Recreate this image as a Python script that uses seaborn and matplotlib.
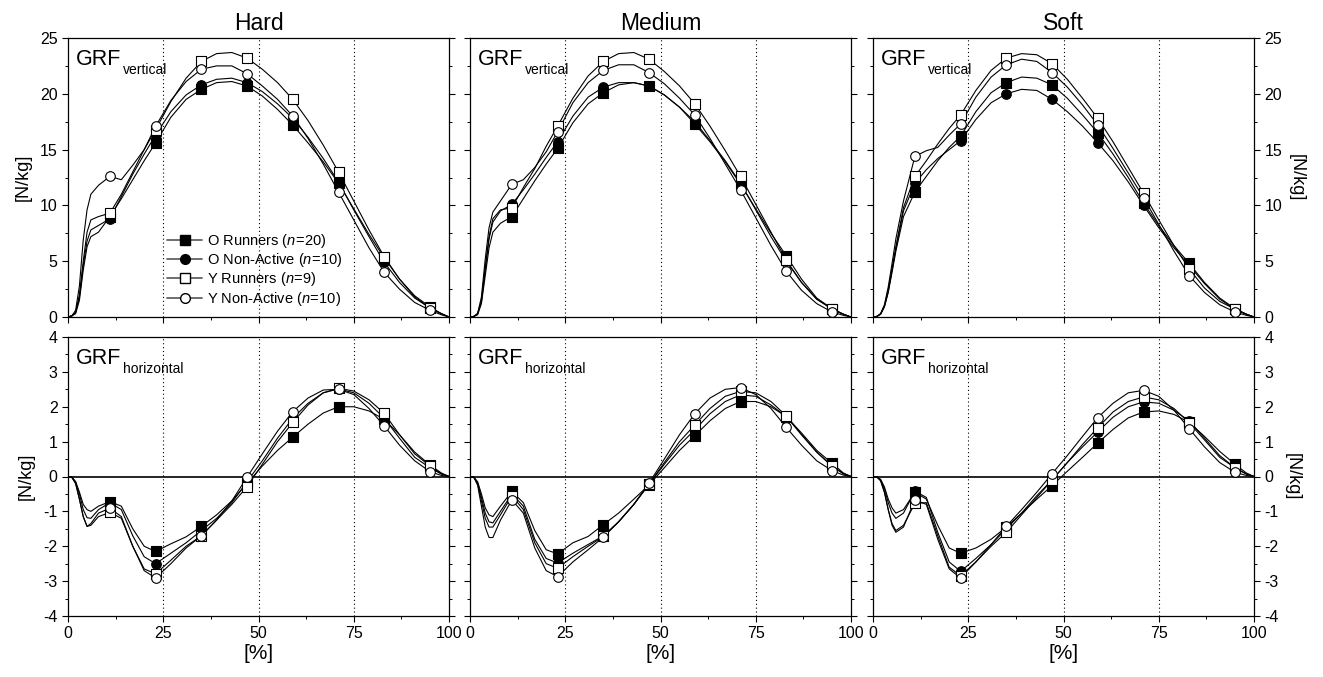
import numpy as np
import matplotlib
matplotlib.use('Agg')
import matplotlib.pyplot as plt
import seaborn as sns
from matplotlib.lines import Line2D
from matplotlib.ticker import MultipleLocator

pct = [0, 1, 2, 3, 4, 5, 6, 8, 11, 14, 17, 20, 23, 27, 31, 35, 39, 43, 47,
       51, 55, 59, 63, 67, 71, 75, 79, 83, 87, 91, 95, 98, 100]
mark_pct = [11, 23, 35, 47, 59, 71, 83, 95]

surfaces = ['Hard', 'Medium', 'Soft']
groups = ['O Runners ($\\mathit{n\\!=\\!20}$)', 'O Non-Active ($\\mathit{n\\!=\\!10}$)',
          'Y Runners ($\\mathit{n\\!=\\!9}$)', 'Y Non-Active ($\\mathit{n\\!=\\!10}$)']

# vertical GRF [N/kg]
hard_v_orun = [0, 0.1, 0.3, 1.5, 4.2, 6.3, 7.2, 7.6, 9.0, 10.6, 12.3, 14.0, 15.6, 17.9, 19.5, 20.4, 21.0, 21.1, 20.7,
               19.8, 18.6, 17.2, 15.6, 13.9, 12.0, 9.7, 7.4, 5.3, 3.4, 1.9, 0.9, 0.3, 0]
hard_v_ona = [0, 0.1, 0.4, 1.8, 4.6, 6.8, 7.8, 8.2, 8.8, 10.8, 12.8, 14.6, 16.3, 18.4, 19.9, 20.8, 21.3, 21.4, 21.0,
              20.2, 19.1, 17.8, 16.1, 14.2, 12.1, 9.6, 7.2, 4.9, 3.1, 1.7, 0.8, 0.3, 0]
hard_v_yrun = [0, 0.1, 0.4, 2.0, 5.0, 7.6, 8.7, 9.0, 9.3, 11.0, 13.0, 15.0, 16.8, 19.3, 21.4, 22.9, 23.6, 23.7, 23.2,
               22.2, 21.0, 19.5, 17.6, 15.4, 13.0, 10.4, 7.8, 5.4, 3.4, 1.8, 0.8, 0.3, 0]
hard_v_yna = [0, 0.1, 0.6, 2.8, 6.9, 9.6, 11.0, 11.8, 12.6, 12.3, 13.6, 15.0, 17.1, 19.4, 21.1, 22.2, 22.5, 22.5, 21.8,
              20.7, 19.5, 18.0, 16.0, 13.7, 11.2, 8.7, 6.2, 4.0, 2.5, 1.3, 0.6, 0.2, 0]

med_v_orun = [0, 0.05, 0.2, 1.2, 3.7, 6.2, 7.6, 8.4, 9.0, 10.6, 12.2, 13.7, 15.1, 17.4, 19.1, 20.1, 20.8, 21.0, 20.7,
              19.9, 18.8, 17.3, 15.7, 13.9, 11.9, 9.7, 7.5, 5.5, 3.4, 1.7, 0.75, 0.25, 0]
med_v_ona = [0, 0.05, 0.3, 1.4, 4.2, 7.0, 8.5, 9.5, 10.1, 11.4, 12.8, 14.3, 15.7, 18.0, 19.7, 20.6, 21.0, 21.0, 20.7,
             19.9, 18.8, 17.5, 15.8, 14.0, 12.0, 9.6, 7.2, 5.0, 3.1, 1.6, 0.7, 0.25, 0]
med_v_yrun = [0, 0.05, 0.3, 1.5, 4.5, 7.2, 8.8, 9.6, 9.8, 11.6, 13.3, 15.3, 17.1, 19.6, 21.6, 22.9, 23.6, 23.7, 23.1,
              22.0, 20.7, 19.1, 17.1, 14.9, 12.6, 10.1, 7.6, 5.1, 3.1, 1.6, 0.75, 0.25, 0]
med_v_yna = [0, 0.05, 0.3, 1.8, 5.2, 8.0, 9.4, 10.4, 11.9, 12.3, 13.4, 14.8, 16.6, 19.2, 21.0, 22.1, 22.6, 22.6, 21.9,
             20.9, 19.6, 18.1, 16.0, 13.7, 11.4, 8.9, 6.4, 4.1, 2.4, 1.2, 0.45, 0.15, 0]

soft_v_orun = [0, 0.05, 0.25, 0.9, 2.2, 4.0, 5.9, 9.0, 11.2, 12.6, 14.0, 15.2, 16.2, 18.4, 20.1, 21.0, 21.5, 21.4, 20.8,
               19.6, 18.1, 16.5, 14.6, 12.5, 10.2, 8.2, 6.4, 4.8, 3.1, 1.7, 0.75, 0.25, 0]
soft_v_ona = [0, 0.05, 0.25, 0.95, 2.3, 4.2, 6.1, 9.5, 12.0, 13.2, 14.2, 15.0, 15.8, 17.7, 19.2, 20.0, 20.4, 20.3, 19.5,
              18.4, 17.1, 15.6, 14.0, 12.1, 10.0, 8.0, 6.2, 4.6, 3.0, 1.6, 0.7, 0.25, 0]
soft_v_yrun = [0, 0.05, 0.3, 1.0, 2.4, 4.3, 6.3, 9.8, 12.6, 14.0, 15.5, 16.9, 18.1, 20.3, 22.1, 23.2, 23.6, 23.5, 22.7,
               21.3, 19.6, 17.8, 15.7, 13.4, 11.1, 8.7, 6.4, 4.3, 2.6, 1.4, 0.7, 0.25, 0]
soft_v_yna = [0, 0.05, 0.3, 1.1, 2.7, 4.8, 7.0, 10.4, 14.4, 14.9, 15.2, 16.3, 17.3, 19.7, 21.5, 22.6, 23.1, 22.9, 21.9,
              20.6, 19.0, 17.2, 15.1, 12.9, 10.7, 8.3, 5.9, 3.7, 2.2, 1.1, 0.45, 0.15, 0]

# horizontal GRF [N/kg]
hard_h_orun = [0, -0.02, -0.15, -0.45, -0.8, -0.95, -1.0, -0.85, -0.72, -0.85, -1.5, -2.0, -2.15, -1.93, -1.73, -1.43, -1.1, -0.7, -0.2,
               0.3, 0.75, 1.13, 1.5, 1.82, 2.0, 2.0, 1.88, 1.64, 1.2, 0.7, 0.33, 0.1, 0]
hard_h_ona = [0, -0.02, -0.15, -0.5, -0.95, -1.18, -1.2, -0.95, -0.75, -0.95, -1.7, -2.3, -2.5, -2.2, -1.9, -1.55, -1.2, -0.75, -0.15,
              0.45, 1.1, 1.67, 2.1, 2.4, 2.51, 2.4, 2.1, 1.67, 1.1, 0.55, 0.25, 0.07, 0]
hard_h_yrun = [0, -0.02, -0.2, -0.65, -1.15, -1.43, -1.4, -1.15, -1.03, -1.2, -2.0, -2.65, -2.79, -2.4, -2.0, -1.7, -1.25, -0.8, -0.29,
               0.35, 1.0, 1.55, 2.05, 2.4, 2.53, 2.45, 2.2, 1.81, 1.2, 0.65, 0.3, 0.08, 0]
hard_h_yna = [0, -0.02, -0.2, -0.65, -1.15, -1.43, -1.35, -1.05, -0.91, -1.15, -2.0, -2.7, -2.91, -2.5, -2.05, -1.7, -1.25, -0.7, -0.02,
              0.65, 1.3, 1.86, 2.25, 2.48, 2.5, 2.35, 1.95, 1.45, 0.9, 0.45, 0.14, 0.03, 0]

med_h_orun = [0, -0.02, -0.15, -0.5, -0.9, -1.1, -1.15, -0.85, -0.43, -0.75, -1.55, -2.1, -2.22, -1.9, -1.72, -1.38, -1.05, -0.65, -0.24,
              0.25, 0.75, 1.17, 1.6, 1.95, 2.15, 2.15, 2.0, 1.72, 1.25, 0.75, 0.38, 0.1, 0]
med_h_ona = [0, -0.02, -0.18, -0.6, -1.05, -1.3, -1.33, -1.0, -0.5, -0.85, -1.8, -2.35, -2.48, -2.2, -1.95, -1.7, -1.3, -0.8, -0.22,
             0.35, 0.9, 1.34, 1.8, 2.15, 2.34, 2.3, 2.05, 1.72, 1.2, 0.7, 0.3, 0.08, 0]
med_h_yrun = [0, -0.02, -0.2, -0.7, -1.2, -1.45, -1.45, -1.1, -0.55, -0.95, -1.9, -2.5, -2.63, -2.3, -2.0, -1.72, -1.3, -0.8, -0.22,
              0.4, 1.0, 1.48, 1.95, 2.3, 2.44, 2.4, 2.15, 1.74, 1.2, 0.7, 0.3, 0.08, 0]
med_h_yna = [0, -0.02, -0.25, -0.85, -1.45, -1.75, -1.75, -1.25, -0.67, -1.05, -2.05, -2.7, -2.87, -2.45, -2.1, -1.74, -1.3, -0.8, -0.19,
             0.5, 1.2, 1.8, 2.25, 2.5, 2.55, 2.35, 1.95, 1.41, 0.9, 0.45, 0.17, 0.04, 0]

soft_h_orun = [0, -0.01, -0.08, -0.3, -0.65, -0.9, -1.05, -0.95, -0.45, -0.65, -1.4, -2.05, -2.2, -2.05, -1.8, -1.45, -1.05, -0.65, -0.26,
               0.15, 0.55, 0.96, 1.35, 1.68, 1.85, 1.88, 1.78, 1.55, 1.15, 0.72, 0.35, 0.1, 0]
soft_h_ona = [0, -0.01, -0.1, -0.35, -0.75, -1.05, -1.2, -1.05, -0.42, -0.6, -1.6, -2.45, -2.72, -2.35, -1.95, -1.5, -1.05, -0.55, -0.1,
              0.4, 0.85, 1.28, 1.7, 2.0, 2.14, 2.1, 1.9, 1.59, 1.1, 0.6, 0.25, 0.07, 0]
soft_h_yrun = [0, -0.01, -0.12, -0.45, -0.95, -1.35, -1.55, -1.4, -0.77, -0.75, -1.7, -2.6, -2.85, -2.45, -2.0, -1.6, -1.1, -0.6, -0.1,
               0.4, 0.92, 1.4, 1.85, 2.15, 2.28, 2.2, 1.95, 1.54, 1.05, 0.55, 0.25, 0.07, 0]
soft_h_yna = [0, -0.01, -0.12, -0.45, -0.95, -1.4, -1.6, -1.45, -0.67, -0.8, -1.8, -2.65, -2.91, -2.45, -1.95, -1.43, -0.95, -0.45, 0.08,
              0.6, 1.15, 1.69, 2.1, 2.4, 2.47, 2.3, 1.9, 1.37, 0.85, 0.4, 0.12, 0.03, 0]

vertical = [[hard_v_orun, hard_v_ona, hard_v_yrun, hard_v_yna],
            [med_v_orun, med_v_ona, med_v_yrun, med_v_yna],
            [soft_v_orun, soft_v_ona, soft_v_yrun, soft_v_yna]]
horizontal = [[hard_h_orun, hard_h_ona, hard_h_yrun, hard_h_yna],
              [med_h_orun, med_h_ona, med_h_yrun, med_h_yna],
              [soft_h_orun, soft_h_ona, soft_h_yrun, soft_h_yna]]

markers = ['s', 'o', 's', 'o']
faces = ['black', 'black', 'white', 'white']

sns.set_style('ticks')
plt.rcParams['font.family'] = ['Liberation Sans', 'DejaVu Sans']
plt.rcParams['mathtext.fontset'] = 'custom'
plt.rcParams['mathtext.rm'] = 'Liberation Sans'
plt.rcParams['mathtext.it'] = 'Liberation Sans:italic'
plt.rcParams['axes.unicode_minus'] = False
plt.rcParams['axes.linewidth'] = 0.9
for key in ['text.color', 'axes.labelcolor', 'xtick.color', 'ytick.color', 'axes.edgecolor']:
    plt.rcParams[key] = 'black'

fig = plt.figure(figsize=(13.23, 6.77), dpi=100)

W, H = 1323, 677
lefts = [68, 470, 873]
tops = [38, 337]
aw, ah = 381, 279

pct_arr = np.array(pct)
midx = [pct.index(m) for m in mark_pct]


def grf_label(ax, sub):
    t = ax.text(0.02, 0.903, 'GRF', transform=ax.transAxes, fontsize=15.5,
                va='baseline', ha='left')
    ax.annotate(sub, xy=(1, 0), xycoords=t, xytext=(1.5, -3),
                textcoords='offset points', fontsize=10, va='baseline', ha='left')


for row in range(2):
    for col in range(3):
        ax = fig.add_axes([lefts[col] / W, 1 - (tops[row] + ah) / H, aw / W, ah / H])
        series = vertical[col] if row == 0 else horizontal[col]
        for vals in series:
            sns.lineplot(x=pct_arr, y=np.array(vals), ax=ax, color='black',
                         linewidth=0.8, estimator=None, sort=False)
        for vals, mk, fc in zip(series, markers, faces):
            v = np.array(vals)
            sns.scatterplot(x=pct_arr[midx], y=v[midx], ax=ax, marker=mk, s=48,
                            color=fc, edgecolor='black', linewidth=0.8,
                            zorder=5, legend=False)
        for g in [25, 50, 75]:
            ax.axvline(g, color='black', linestyle=(0, (1, 2.5)), linewidth=0.8, zorder=1)
        ax.set_xlim(0, 100)
        ax.xaxis.set_major_locator(MultipleLocator(25))
        ax.xaxis.set_minor_locator(MultipleLocator(12.5))
        if row == 0:
            ax.set_ylim(0, 25)
            ax.yaxis.set_major_locator(MultipleLocator(5))
            ax.yaxis.set_minor_locator(MultipleLocator(2.5))
            ax.set_title(surfaces[col], fontsize=16.5, pad=5.5)
            ax.set_xticklabels([])
            grf_label(ax, 'vertical')
        else:
            ax.set_ylim(-4, 4)
            ax.yaxis.set_major_locator(MultipleLocator(1))
            ax.yaxis.set_minor_locator(MultipleLocator(0.5))
            ax.axhline(0, color='black', linewidth=1.2, zorder=2)
            grf_label(ax, 'horizontal')
        ax.tick_params(which='both', direction='out', left=True, right=True,
                       top=False, bottom=True, labelsize=11.5, pad=3)
        ax.tick_params(which='major', length=4.5, width=0.8)
        ax.tick_params(which='minor', length=2.5, width=0.7)
        if col == 0:
            ax.set_ylabel('[N/kg]', fontsize=13, labelpad=6)
        elif col == 1:
            ax.tick_params(labelleft=False)
            ax.set_ylabel('')
        else:
            ax.tick_params(labelleft=False, labelright=True)
            ax.yaxis.set_label_position('right')
            ax.set_ylabel('[N/kg]', fontsize=13, rotation=270, labelpad=16)
        ax.set_xlabel('[%]' if row == 1 else '', fontsize=15, labelpad=2)
        if row == 0 and col == 0:
            handles = [Line2D([], [], color='#555555', linewidth=1.2, marker=mk,
                              markerfacecolor=fc, markeredgecolor='black',
                              markersize=7) for mk, fc in zip(markers, faces)]
            ax.legend(handles, groups, loc='upper left', bbox_to_anchor=(0.245, 0.325),
                      frameon=False, fontsize=10.5, handlelength=2.4,
                      labelspacing=0.08, handletextpad=0.3, borderaxespad=0)

fig.savefig('out.png', dpi=100)
